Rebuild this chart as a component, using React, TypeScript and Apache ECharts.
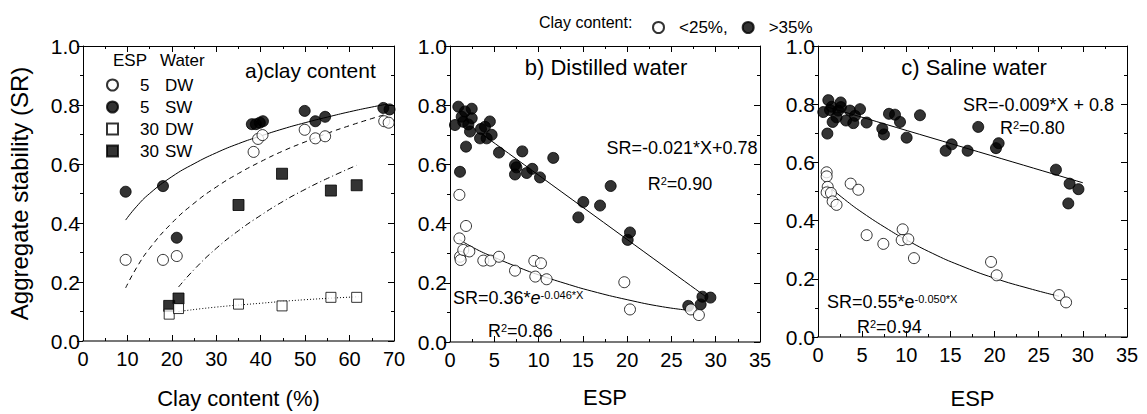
import React, { useEffect, useRef } from "react";
import * as echarts from "echarts";

const FONT = 'Arial, "Liberation Sans", Helvetica, sans-serif';

// ---- Panel a: clay content (%) vs aggregate stability (SR)
const aEsp5DW: number[][] = [[9.6, 0.275], [18.0, 0.275], [21.1, 0.288], [38.4, 0.641], [39.4, 0.685], [40.4, 0.698], [49.9, 0.716], [52.3, 0.687], [54.5, 0.694], [67.8, 0.745], [68.8, 0.74]];
const aEsp5SW: number[][] = [[9.6, 0.506], [18.0, 0.525], [21.1, 0.35], [38.0, 0.735], [38.9, 0.735], [39.8, 0.74], [40.5, 0.745], [49.9, 0.78], [52.3, 0.745], [54.5, 0.76], [67.6, 0.79], [69.0, 0.785]];
const aEsp30DW: number[][] = [[19.4, 0.091], [21.5, 0.11], [35.0, 0.125], [44.8, 0.119], [55.8, 0.148], [61.6, 0.148]];
const aEsp30SW: number[][] = [[19.4, 0.119], [21.5, 0.144], [35.0, 0.461], [44.8, 0.567], [55.8, 0.51], [61.6, 0.528]];
// fitted curves
const aFit5SW: number[][] = [[9.6, 0.41], [12, 0.455], [15, 0.5], [20, 0.557], [25, 0.601], [30, 0.638], [35, 0.669], [40, 0.695], [45, 0.719], [50, 0.74], [55, 0.759], [60, 0.777], [65, 0.793], [68.5, 0.803]];
const aFit5DW: number[][] = [[9.6, 0.18], [12, 0.247], [15, 0.314], [20, 0.4], [25, 0.467], [30, 0.522], [35, 0.568], [40, 0.608], [45, 0.644], [50, 0.675], [55, 0.704], [60, 0.73], [65, 0.754], [68.5, 0.77]];
const aFit30SW: number[][] = [[21.5, 0.183], [25, 0.242], [30, 0.314], [35, 0.374], [40, 0.426], [45, 0.473], [50, 0.514], [55, 0.551], [61.5, 0.595]];
const aFit30DW: number[][] = [[21.5, 0.1], [30, 0.115], [40, 0.128], [50, 0.14], [62, 0.15]];

// ---- Panel b: distilled water, ESP vs SR
const bHigh: number[][] = [[0.56, 0.733], [0.94, 0.795], [1.13, 0.575], [1.32, 0.761], [1.5, 0.744], [1.69, 0.779], [1.81, 0.66], [2.07, 0.735], [2.26, 0.711], [2.45, 0.788], [2.45, 0.756], [3.39, 0.688], [3.5, 0.72], [3.95, 0.727], [4.14, 0.688], [4.5, 0.745], [4.7, 0.7], [5.53, 0.64], [7.34, 0.598], [7.34, 0.566], [7.5, 0.59], [8.16, 0.644], [8.66, 0.571], [9.29, 0.585], [10.16, 0.556], [11.66, 0.622], [14.49, 0.421], [15.05, 0.473], [16.94, 0.461], [18.14, 0.527], [20.06, 0.345], [20.32, 0.37], [26.9, 0.122], [28.3, 0.127], [28.5, 0.153], [29.4, 0.15]];
const bLow: number[][] = [[1.06, 0.497], [1.06, 0.35], [1.81, 0.392], [1.13, 0.288], [1.2, 0.277], [1.5, 0.311], [2.18, 0.306], [3.76, 0.275], [4.59, 0.275], [5.53, 0.288], [7.34, 0.241], [9.52, 0.274], [10.27, 0.266], [9.63, 0.221], [10.91, 0.212], [19.68, 0.202], [20.32, 0.11], [27.2, 0.11], [28.1, 0.091]];
const bFitHigh: number[][] = [[3.5, 0.705], [28.8, 0.155]];
const bFitLow: number[][] = [[1.06, 0.346], [3, 0.313], [5, 0.286], [8, 0.249], [10, 0.227], [13, 0.198], [16, 0.172], [20, 0.143], [24, 0.119], [27.3, 0.106]];

// ---- Panel c: saline water, ESP vs SR
const cHigh: number[][] = [[0.6, 0.773], [1.06, 0.699], [1.17, 0.814], [1.36, 0.78], [1.55, 0.791], [1.66, 0.739], [2.1, 0.755], [2.3, 0.778], [2.57, 0.806], [2.6, 0.79], [3.17, 0.744], [3.62, 0.778], [4.0, 0.735], [4.19, 0.76], [4.76, 0.783], [5.51, 0.737], [7.28, 0.716], [7.47, 0.696], [8.04, 0.767], [8.72, 0.764], [9.29, 0.739], [10.04, 0.685], [11.55, 0.762], [14.46, 0.64], [15.14, 0.662], [16.95, 0.64], [18.15, 0.722], [20.16, 0.649], [20.46, 0.666], [26.95, 0.575], [28.35, 0.459], [28.5, 0.527], [29.5, 0.508]];
const cLow: number[][] = [[0.98, 0.566], [0.98, 0.552], [1.1, 0.516], [0.98, 0.497], [1.47, 0.495], [1.66, 0.466], [2.1, 0.454], [3.7, 0.527], [4.57, 0.506], [5.51, 0.35], [7.4, 0.32], [9.59, 0.37], [9.48, 0.333], [10.23, 0.336], [10.87, 0.271], [19.6, 0.258], [20.24, 0.212], [27.3, 0.144], [28.1, 0.119]];
const cFitHigh: number[][] = [[1, 0.791], [30, 0.53]];
const cFitLow: number[][] = [[1, 0.523], [3, 0.473], [5, 0.428], [8, 0.369], [10, 0.334], [13, 0.287], [16, 0.247], [20, 0.202], [24, 0.166], [27.3, 0.14]];

const yTicks = [0, 0.2, 0.4, 0.6, 0.8, 1.0];
const xMaxA = 70;
const xMaxBC = 35;

function App() {
  const ref = useRef<HTMLDivElement>(null);
  useEffect(() => {
    const chart = echarts.init(ref.current as HTMLDivElement, null, { renderer: "svg" });
    const open = { color: "#fff", borderColor: "#000", borderWidth: 1 };
    const filled = { color: "#000", borderColor: "#000", borderWidth: 1 };
    const panels = [
      { left: 83, width: 311, max: xMaxA, interval: 10, name: "Clay content (%)", nameGap: 46 },
      { left: 450, width: 310, max: xMaxBC, interval: 5, name: "ESP", nameGap: 44 },
      { left: 818, width: 309, max: xMaxBC, interval: 5, name: "ESP", nameGap: 50 },
    ];
    const black = { color: "#000", width: 1 };
    const xAxis: any[] = [];
    const yAxis: any[] = [];
    panels.forEach((p, i) => {
      xAxis.push({
        type: "value", gridIndex: i, min: 0, max: p.max, interval: p.interval, position: "bottom",
        axisLine: { show: true, onZero: false, lineStyle: { color: "#777", width: 2 } },
        axisTick: { show: true, inside: true, length: 6, lineStyle: black },
        minorTick: { show: true, splitNumber: 2, length: 3, lineStyle: black },
        axisLabel: { fontSize: 20, color: "#000", margin: 8, fontFamily: FONT },
        splitLine: { show: false },
        name: p.name, nameLocation: "middle", nameGap: p.nameGap,
        nameTextStyle: { fontSize: 22, color: "#000", fontFamily: FONT },
      });
    });
    panels.forEach((p, i) => {
      xAxis.push({
        type: "value", gridIndex: i, min: 0, max: p.max, interval: p.interval, position: "top",
        axisLine: { show: true, onZero: false, lineStyle: black },
        axisTick: { show: true, inside: true, length: 6, lineStyle: black },
        minorTick: { show: true, splitNumber: 2, length: 3, lineStyle: black },
        axisLabel: { show: false }, splitLine: { show: false },
      });
    });
    panels.forEach((p, i) => {
      yAxis.push({
        type: "value", gridIndex: i, min: yTicks[0], max: yTicks[yTicks.length - 1], interval: 0.2, position: "left",
        axisLine: { show: true, onZero: false, lineStyle: black },
        axisTick: { show: true, inside: false, length: 6, lineStyle: black },
        minorTick: { show: true, splitNumber: 2, length: 3, lineStyle: black },
        axisLabel: { fontSize: 21, color: "#000", margin: 3, fontFamily: FONT, formatter: (v: number) => v.toFixed(1) },
        splitLine: { show: false },
        name: i === 0 ? "Aggregate stability (SR)" : "", nameLocation: "middle", nameGap: 52, nameRotate: 90,
        nameTextStyle: { fontSize: 24, color: "#000", fontFamily: FONT },
      });
    });
    panels.forEach((p, i) => {
      yAxis.push({
        type: "value", gridIndex: i, min: 0, max: 1, interval: 0.2, position: "right",
        axisLine: { show: true, onZero: false, lineStyle: black },
        axisTick: { show: true, inside: true, length: 6, lineStyle: black },
        minorTick: { show: true, splitNumber: 2, length: 3, lineStyle: black },
        axisLabel: { show: false }, splitLine: { show: false },
      });
    });

    const line = (name: string, data: number[][], idx: number, type: any, width = 1) => ({
      name, type: "line", data, xAxisIndex: idx, yAxisIndex: idx, smooth: true, showSymbol: false, symbol: "none",
      lineStyle: { color: "#000", width, type }, z: 1, silent: true,
    });
    const scat = (name: string, data: number[][], idx: number, symbol: string, style: any, size: number, z: number) => ({
      name, type: "scatter", data, xAxisIndex: idx, yAxisIndex: idx, symbol, symbolSize: size, itemStyle: style, z,
    });

    const series: any[] = [
      line("fit5SW", aFit5SW, 0, "solid"),
      line("fit5DW", aFit5DW, 0, [5, 4]),
      line("fit30SW", aFit30SW, 0, [6, 3, 1, 3]),
      line("fit30DW", aFit30DW, 0, [1, 2]),
      scat("5 SW", aEsp5SW, 0, "circle", filled, 11, 3),
      scat("30 SW", aEsp30SW, 0, "rect", filled, 11, 3),
      scat("5 DW", aEsp5DW, 0, "circle", open, 11, 4),
      scat("30 DW", aEsp30DW, 0, "rect", open, 10, 4),
      line("fitBHigh", bFitHigh, 1, "solid"),
      line("fitBLow", bFitLow, 1, "solid"),
      scat(">35%", bHigh, 1, "circle", filled, 11, 3),
      scat("<25%", bLow, 1, "circle", open, 11, 4),
      line("fitCHigh", cFitHigh, 2, "solid"),
      line("fitCLow", cFitLow, 2, "solid"),
      scat(">35%", cHigh, 2, "circle", filled, 11, 3),
      scat("<25%", cLow, 2, "circle", open, 11, 4),
    ];

    const t = (text: string, x: number, y: number, size: number, align = "left") => ({
      type: "text", x, y, z: 10,
      style: { text, fontSize: size, fontFamily: FONT, fill: "#000", align, verticalAlign: "middle" },
    });
    const rich = {
      a: { fontSize: 18, fontFamily: FONT, color: "#000" },
      i: { fontSize: 18, fontFamily: FONT, color: "#000", fontStyle: "italic" },
      s: { fontSize: 11, fontFamily: FONT, color: "#000", verticalAlign: "top" },
    };
    const rt = (text: string, x: number, y: number, align = "left") => ({
      type: "text", x, y, z: 10,
      style: { text, rich, align, verticalAlign: "middle", fill: "#000" },
    });

    chart.setOption({
      animation: false,
      backgroundColor: "#fff",
      grid: panels.map((p) => ({ left: p.left, top: 46, width: p.width, height: 296 })),
      xAxis, yAxis, series,
      legend: [
        {
          data: ["5 DW", "5 SW", "30 DW", "30 SW"], orient: "vertical", left: 101, top: 69,
          itemWidth: 11, itemHeight: 11, itemGap: 0, selectedMode: false,
          formatter: (n: string) => { const [e, w] = n.split(" "); return `{s|}{n|${e}}{w|${w}}`; },
          textStyle: {
            fontSize: 17, fontFamily: FONT, color: "#000", lineHeight: 22,
            rich: { s: { width: 17 }, n: { width: 25, fontSize: 17, fontFamily: FONT }, w: { fontSize: 17, fontFamily: FONT } },
          },
        },
        {
          data: ["<25%", ">35%"], orient: "horizontal", left: 647, top: 14,
          itemWidth: 11, itemHeight: 11, itemGap: 14, selectedMode: false,
          formatter: (n: string) => `{s|}${n === "<25%" ? "<25%," : ">35%"}`,
          textStyle: { fontSize: 17, fontFamily: FONT, color: "#000", rich: { s: { width: 10 } } },
        },
      ],
      graphic: [
        t("Clay content:", 539, 22, 16),
        t("ESP", 113, 60, 17),
        t("Water", 160, 60, 17),
        t("a)clay content", 245, 70, 21),
        t("b) Distilled water", 606, 67, 22, "center"),
        t("c) Saline water", 974, 67, 22, "center"),
        rt("{a|SR=-0.021*X+0.78}", 682, 148, "center"),
        rt("{a|R}{s|2}{a|=0.90}", 680, 184, "center"),
        rt("{a|SR=0.36*}{i|e}{s|-0.046*X}", 453, 298),
        rt("{a|R}{s|2}{a|=0.86}", 488, 331),
        rt("{a|SR=-0.009*X + 0.8}", 963, 105),
        rt("{a|R}{s|2}{a|=0.80}", 1000, 128),
        rt("{a|SR=0.55*e}{s|-0.050*X}", 827, 302),
        rt("{a|R}{s|2}{a|=0.94}", 857, 327),
      ],
    });
    return () => chart.dispose();
  }, []);
  return <div ref={ref} style={{ position: "fixed", left: 0, top: 0, width: 1147, height: 414, background: "#fff" }} />;
}

export default App;
